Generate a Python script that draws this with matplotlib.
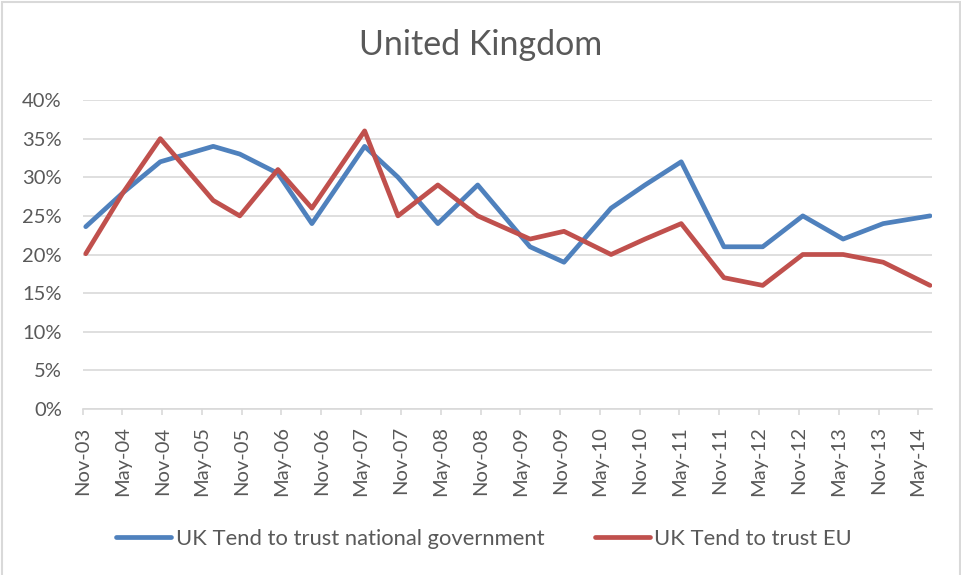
import numpy as np
import pandas as pd
import matplotlib
matplotlib.use("Agg")
import matplotlib.pyplot as plt
import matplotlib.dates as mdates
from matplotlib.ticker import PercentFormatter, MultipleLocator
from matplotlib.patches import Rectangle

# fechas aproximadas de cada encuesta (leidas de la posicion en el eje)
fechas = ["2003-11-15", "2004-05-04", "2004-10-22", "2005-06-22", "2005-10-22",
          "2006-04-15", "2006-09-18", "2007-05-18", "2007-10-18", "2008-04-18",
          "2008-10-18", "2009-06-15", "2009-11-18", "2010-06-22", "2010-11-25",
          "2011-05-10", "2011-11-22", "2012-05-18", "2012-11-18", "2013-05-22",
          "2013-11-22", "2014-06-25"]

# % que tiende a confiar
gobierno_nacional = [23.6, 28, 32, 34, 33, 30.5, 24, 34, 30, 24, 29,
                     21, 19, 26, 29, 32, 21, 21, 25, 22, 24, 25]
union_europea = [20.1, 28, 35, 27, 25, 31, 26, 36, 25, 29, 25,
                 22, 23, 20, 22, 24, 17, 16, 20, 20, 19, 16]

etiquetas = ["UK Tend to trust national government", "UK Tend to trust EU"]
titulo = "United Kingdom"

azul = "#4f81bd"
rojo = "#c0504d"
gris_texto = "#595959"
gris_lineas = "#d9d9d9"

plt.rcParams['font.family'] = ['Lato', 'DejaVu Sans']

fechas = pd.to_datetime(fechas)

fig = plt.figure(figsize=(9.62, 5.75), dpi=100)
ax = fig.add_axes([82.7/962, 1-409/575, (932-82.7)/962, (409-100)/575])

ax.plot(fechas, gobierno_nacional, color=azul, lw=3.4, solid_capstyle='round',
        solid_joinstyle='round', label=etiquetas[0], zorder=3)
ax.plot(fechas, union_europea, color=rojo, lw=3.4, solid_capstyle='round',
        solid_joinstyle='round', label=etiquetas[1], zorder=3)

ax.set_ylim(0, 40)
ax.yaxis.set_major_locator(MultipleLocator(5))
ax.yaxis.set_major_formatter(PercentFormatter(decimals=0))
ax.set_xlim(pd.Timestamp("2003-11-01"), pd.Timestamp("2014-07-04"))
ax.xaxis.set_major_locator(mdates.MonthLocator(bymonth=[5, 11]))
ax.xaxis.set_major_formatter(mdates.DateFormatter('%b-%y'))

ax.grid(axis='y', color=gris_lineas, lw=1.2, zorder=0)
for s in ['top', 'right', 'left']:
    ax.spines[s].set_visible(False)
ax.spines['bottom'].set_color(gris_lineas)
ax.spines['bottom'].set_linewidth(1.2)

ax.tick_params(axis='y', length=0, pad=15, labelsize=14.5, labelcolor=gris_texto)
ax.tick_params(axis='x', length=4.5, width=1.2, color=gris_lineas, pad=8,
               labelsize=14.5, labelcolor=gris_texto)
for t in ax.get_xticklabels():
    t.set_rotation(90)
    t.set_ha('center')
    t.set_va('top')

fig.text(0.5, 1-45/575, titulo, ha='center', va='center', fontsize=24.5,
         color=gris_texto)

fig.legend(loc='center', bbox_to_anchor=(484/962, 1-539/575), ncol=2,
           frameon=False, fontsize=15.8, labelcolor=gris_texto,
           handlelength=2.5, handletextpad=0.2, columnspacing=2.3)

# borde del area del grafico
fig.patches.append(Rectangle((2/962, -0.01), 958/962, 1-2/575+0.01,
                             transform=fig.transFigure, fill=False,
                             edgecolor=gris_lineas, lw=1.5))

fig.savefig("out.png", dpi=100, facecolor='white')
